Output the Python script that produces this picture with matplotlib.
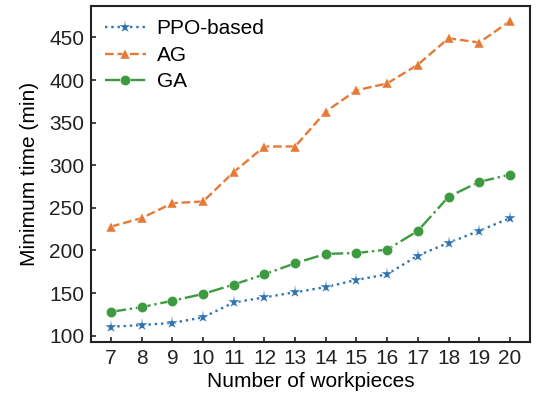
import matplotlib
matplotlib.use("Agg")
import matplotlib.pyplot as plt

workpieces = list(range(7, 21))
ppo = [110.5, 112.5, 115, 121.5, 139, 145, 151, 157, 165.5, 172, 194, 209, 223, 238]
ag = [228, 238, 255.5, 257.5, 292, 322, 322, 363, 388, 396, 418, 449, 444, 469]
ga = [128, 133.5, 141, 149, 160, 172, 185, 196, 197, 201, 223, 263, 280.5, 289]

plt.rcParams['font.family'] = ['Liberation Sans', 'DejaVu Sans']
plt.rcParams['font.size'] = 15

fig = plt.figure(figsize=(5.39, 3.97), dpi=100)
ax = fig.add_axes([0.169, 0.1385, 0.814, 0.8465])

ax.plot(workpieces, ppo, ':', marker='*', color='#2f74b0', markersize=9.5, lw=1.7,
        mec='white', mew=0.3, label='PPO-based')
ax.plot(workpieces, ag, '--', marker='^', color='#e57a37', markersize=7.6, lw=1.7,
        mec='white', mew=0.3, label='AG')
ax.plot(workpieces, ga, '-.', marker='o', color='#3e9a40', markersize=7.4, lw=1.7,
        mec='white', mew=0.3, label='GA')

ax.set_xticks(workpieces)
ax.set_yticks(range(100, 451, 50))
ax.set_xlabel('Number of workpieces', labelpad=3)
ax.set_ylabel('Minimum time (min)', labelpad=7)
ax.tick_params(direction='in', length=3.5, width=1.2, colors='#222222',
               labelcolor='#222222', pad=5)
for s in ax.spines.values():
    s.set_linewidth(1.5)
    s.set_color('#222222')

ax.legend(loc='upper left', frameon=False, handlelength=2.0, borderaxespad=0.25,
          labelspacing=0.36, handletextpad=0.5)

fig.savefig('out.png', dpi=100)
